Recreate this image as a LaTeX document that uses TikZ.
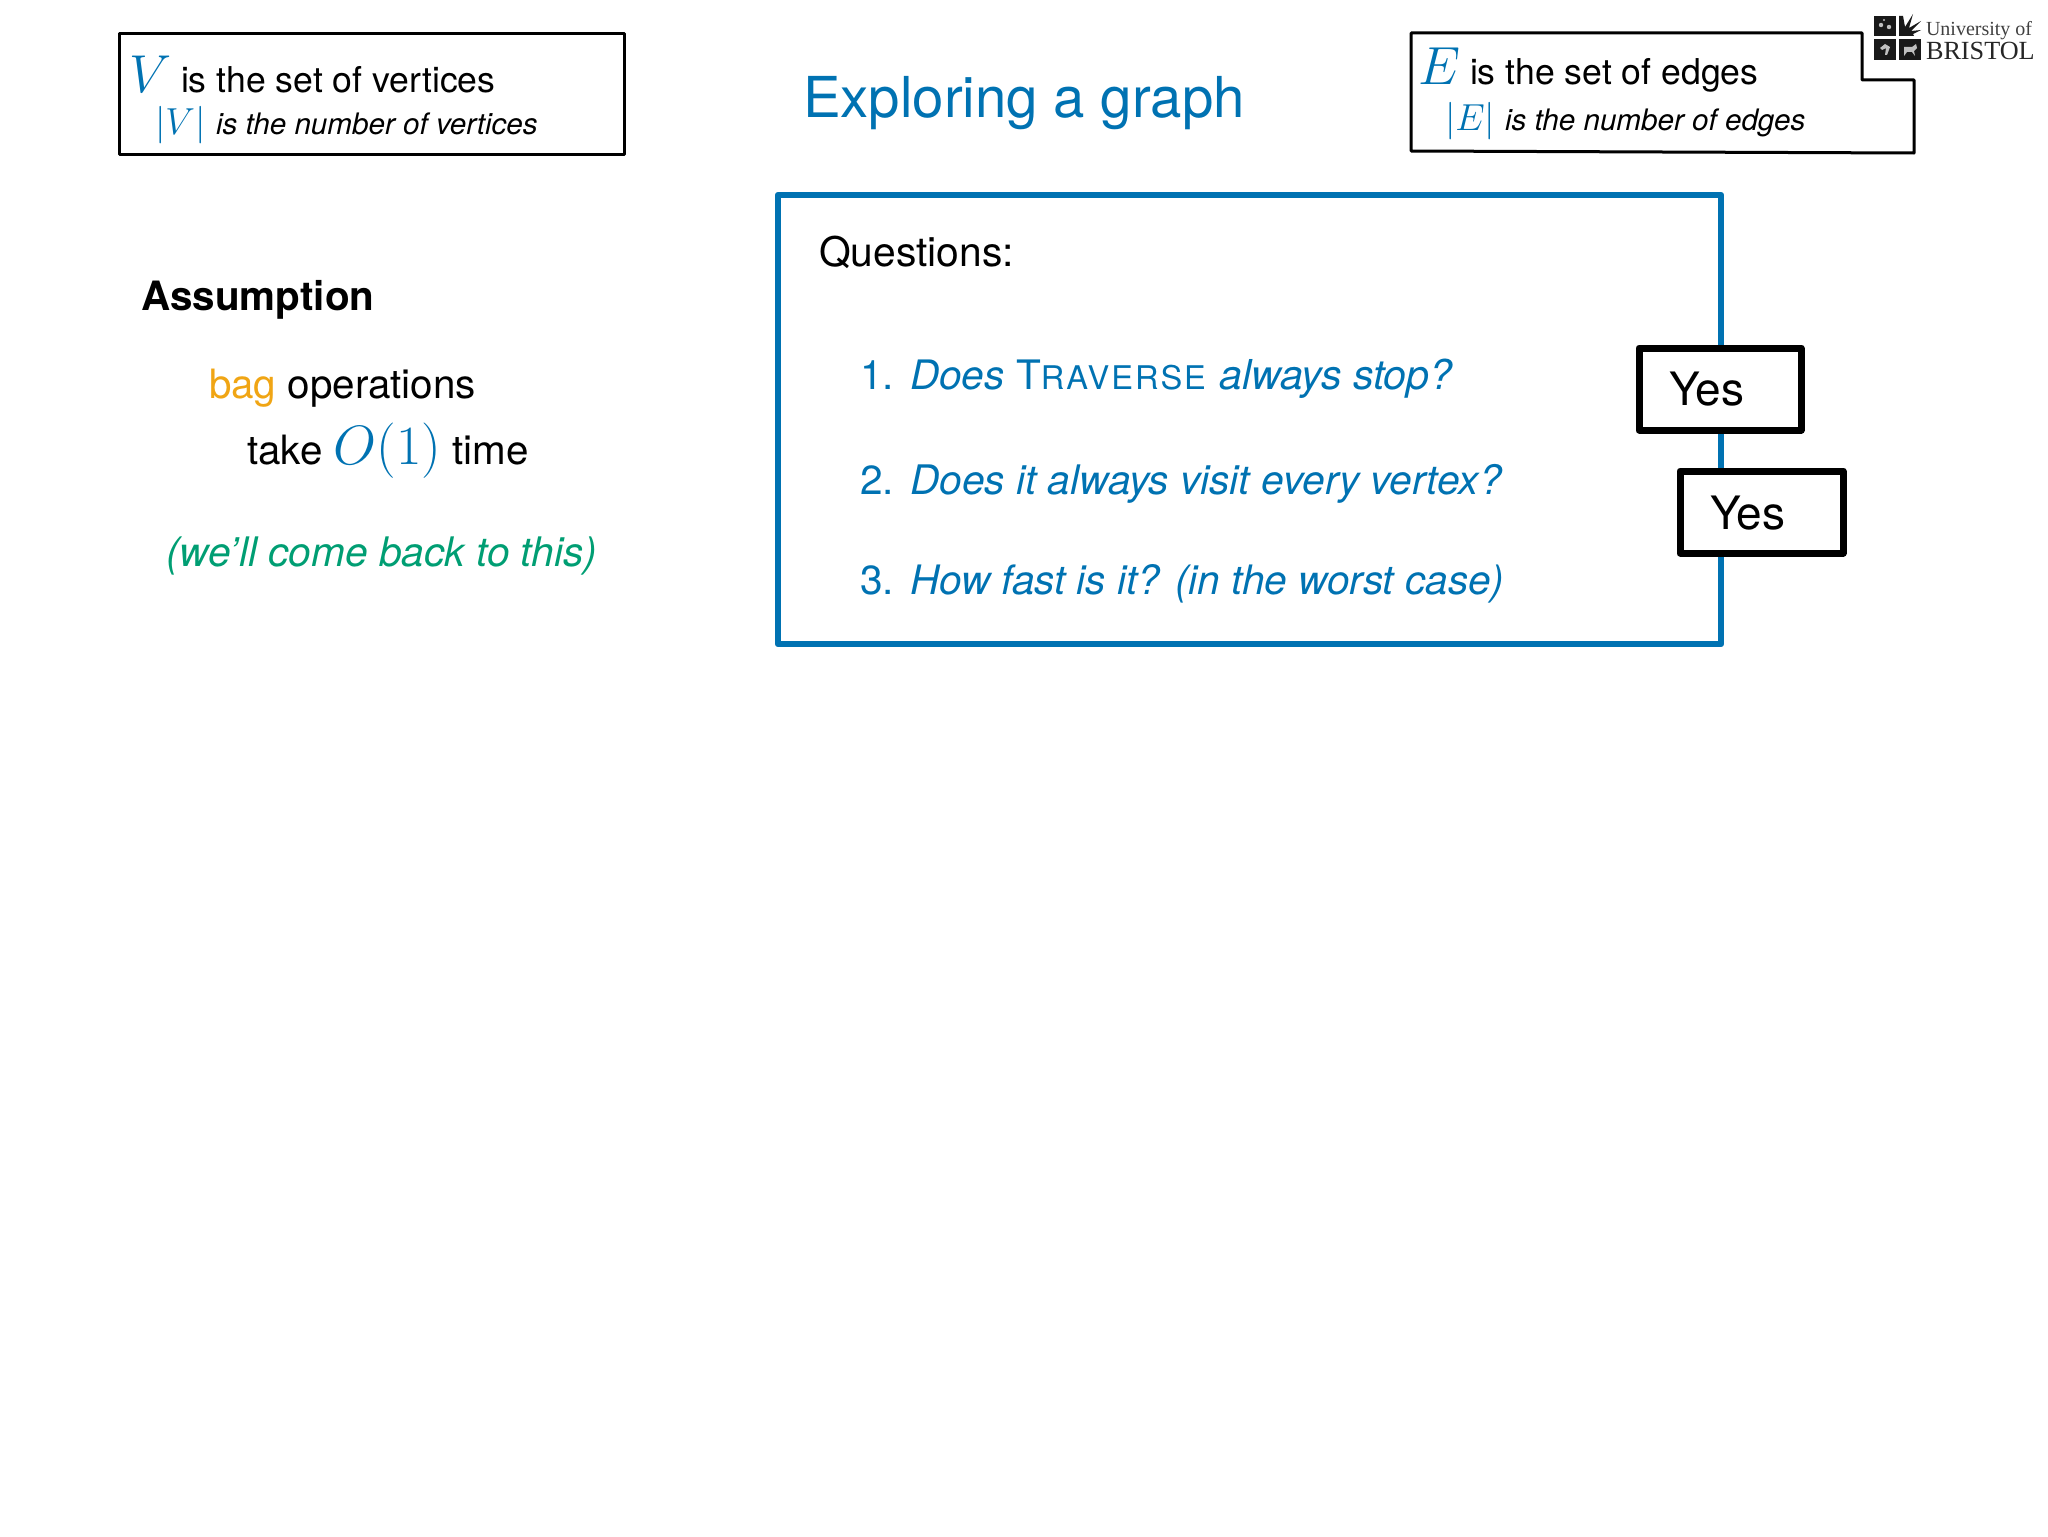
\RequirePackage{fix-cm}
\documentclass[tikz,border=0pt]{standalone}
\usepackage{fontspec}
\setmainfont{TeX Gyre Heros}
\newfontfamily\logofont{Liberation Serif}
\definecolor{bblue}{RGB}{0,114,178}
\definecolor{borange}{RGB}{240,165,20}
\definecolor{bgreen}{RGB}{0,158,115}
\newcommand{\fs}[1]{\fontsize{#1}{#1}\selectfont}
\begin{document}
\begin{tikzpicture}[x=0.5pt,y=-0.5pt,
  txt/.style={anchor=base west,inner sep=0pt,outer sep=0pt},
  infobox/.style={draw=black,line width=1.5pt,line join=round},
  yesbox/.style={draw=black,line width=3.5pt,fill=white,line join=round},
  bigbox/.style={draw=bblue,line width=3.2pt,line join=round},
  logoink/.style={fill=black!90},
  logospot/.style={fill=black!25}]
\useasboundingbox (0,0) rectangle (2048,1536);
% left info box
\draw[infobox] (119,34) rectangle (624,154);
\node[txt] (v) at (129,92) {\fs{26.7}\textcolor{bblue}{$V$}};
\node[txt] (vt) at (181,92) {\fs{17.8}is the set of vertices};
\node[txt] (vn) at (155,134) {\fs{18.8}\textcolor{bblue}{$|V|$}};
\node[txt] (vnt) at (216,134) {\fs{14.8}\itshape is the number of vertices};
% title
\node[txt] (title) at (803,118) {\fs{28.2}\textcolor{bblue}{Exploring a graph}};
% right info box
\draw[infobox] (1411,33) -- (1862,33) -- (1862,80) -- (1914,80) -- (1914,153) -- (1411,151) -- cycle;
\node[txt] (e) at (1418.5,85) {\fs{26.8}\textcolor{bblue}{$E$}};
\node[txt] (et) at (1470,85) {\fs{17.8}is the set of edges};
\node[txt] (en) at (1445,131) {\fs{18.8}\textcolor{bblue}{$|E|$}};
\node[txt] (ent) at (1505,131) {\fs{14.8}\itshape is the number of edges};
% logo
\fill[logoink] (1874,16) rectangle (1896,36);
\fill[logoink] (1874,39) rectangle (1896,60);
\fill[logoink] (1899,39) rectangle (1921,60);
\fill[logoink] (1899,36) -- (1899,16) -- (1903,16) -- (1905,27) -- (1913,14) -- (1909,28) -- (1921,21) -- (1911,31) -- (1921,30) -- (1913,34) -- (1914,36) -- cycle;
\fill[logospot] (1881,25) circle (2.2);
\fill[logospot] (1889,27) circle (2.2);
\fill[logospot] (1884,20) circle (1.2);
\fill[logospot] (1880,48) -- (1885,44) -- (1890,47) -- (1887,55) -- (1885,55) -- (1886,48) -- (1882,50) -- cycle;
\fill[logospot] (1904,47) -- (1912,47) -- (1916,44) -- (1917,48) -- (1914,51) -- (1915,56) -- (1912,52) -- (1907,52) -- (1904,56) -- cycle;
\node[txt] (logo1) at (1926,36) {\logofont\fs{10}\textcolor{black!75}{University of}};
\node[txt] (logo2) at (1926,60) {\logofont\fs{13.1}\textcolor{black!85}{BRISTOL}};
% assumption
\node[txt] (ass) at (141,310) {\fs{20.2}\bfseries Assumption};
\node[txt] (bag) at (209,398) {\fs{20.2}\textcolor{borange}{bag} operations};
\node[txt] (take) at (247,464) {\fs{20.2}take \fs{27.7}\textcolor{bblue}{$O(1)$}\fs{20.2} time};
\node[txt] (back) at (166,566) {\fs{20.35}\itshape\textcolor{bgreen}{(we’ll come back to this)}};
% questions
\draw[bigbox] (778,195) rectangle (1721,644);
\node[txt] (q) at (819,266) {\fs{20.4}Questions:};
\node[txt] (q1n) at (860,389) {\fs{20.3}\textcolor{bblue}{1.}};
\node[txt] (q1) at (910,389) {\fs{20.3}\textcolor{bblue}{\itshape Does {\upshape T\fs{16.3}\addfontfeature{LetterSpace=6}RAVERSE} \hspace{1pt}\fs{20.6}always stop?}};
\node[txt] (q2n) at (860,494) {\fs{20.3}\textcolor{bblue}{2.}};
\node[txt] (q2) at (910,494) {\fs{20.35}\textcolor{bblue}{\itshape Does it always visit every vertex?}};
\node[txt] (q3n) at (860,594) {\fs{20.3}\textcolor{bblue}{3.}};
\node[txt] (q3) at (910,594) {\fs{20.27}\textcolor{bblue}{\itshape How fast is it? (in the worst case)}};
% yes boxes
\draw[yesbox] (1639,348) rectangle (1801,430);
\node[txt] (y1) at (1669,405) {\fs{23}Yes};
\draw[yesbox] (1680,471) rectangle (1843,553);
\node[txt] (y2) at (1710,529) {\fs{23}Yes};
\end{tikzpicture}
\end{document}
